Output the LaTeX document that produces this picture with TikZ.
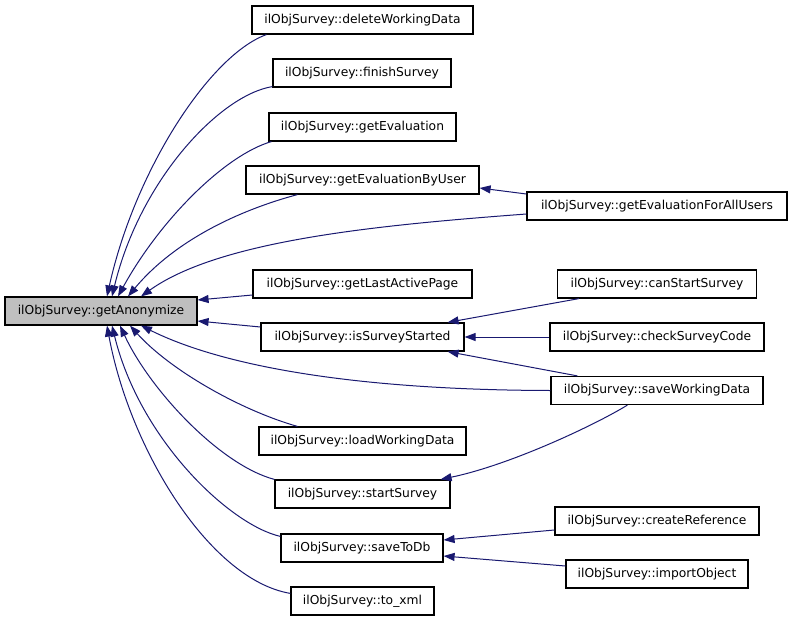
\documentclass[tikz,border=0pt]{standalone}
\usepackage{fontspec}
\setmainfont{DejaVu Sans}
\usetikzlibrary{arrows.meta}
\definecolor{edgeblue}{HTML}{191970}
\definecolor{hlgray}{HTML}{BFBFBF}
\tikzset{
  fn/.style={draw=black, line width=1.2pt, fill=white, inner sep=0pt, minimum height=28pt,
    font=\fontsize{12.3}{14}\selectfont, anchor=center},
  hl/.style={fn, fill=hlgray},
  edge/.style={draw=edgeblue, line width=1pt, {Triangle[length=11pt,width=8pt]}-},
}
\begin{document}
\begin{tikzpicture}[x=1pt,y=-1pt]
\useasboundingbox (0,0) rectangle (792,621);
% nodes
\node[hl, minimum width=192pt] (anon) at (101,311) {ilObjSurvey::getAnonymize};
\node[fn, minimum width=221pt] (del) at (362.5,20) {ilObjSurvey::deleteWorkingData};
\node[fn, minimum width=178pt] (fin) at (362,73) {ilObjSurvey::finishSurvey};
\node[fn, minimum width=187pt] (geval) at (362.5,127) {ilObjSurvey::getEvaluation};
\node[fn, minimum width=233pt] (gebu) at (362.5,180) {ilObjSurvey::getEvaluationByUser};
\node[fn, minimum width=219pt] (glap) at (362.5,284) {ilObjSurvey::getLastActivePage};
\node[fn, minimum width=203pt] (iss) at (362.5,337) {ilObjSurvey::isSurveyStarted};
\node[fn, minimum width=207pt] (lwd) at (362.5,441) {ilObjSurvey::loadWorkingData};
\node[fn, minimum width=175pt] (ss) at (362.5,494) {ilObjSurvey::startSurvey};
\node[fn, minimum width=162pt] (std) at (362,548) {ilObjSurvey::saveToDb};
\node[fn, minimum width=143pt] (xml) at (362.5,601) {ilObjSurvey::to\_xml};
\node[fn, minimum width=260pt] (gefau) at (657,206) {ilObjSurvey::getEvaluationForAllUsers};
\node[fn, minimum width=199pt] (css) at (657,284) {ilObjSurvey::canStartSurvey};
\node[fn, minimum width=214pt] (csc) at (657,337) {ilObjSurvey::checkSurveyCode};
\node[fn, minimum width=212pt] (swd) at (657,390.5) {ilObjSurvey::saveWorkingData};
\node[fn, minimum width=204pt] (cref) at (657,521) {ilObjSurvey::createReference};
\node[fn, minimum width=182pt] (imp) at (657,574) {ilObjSurvey::importObject};
% edges into getAnonymize (top)
\draw[edge] ([xshift=6pt]anon.north) .. controls (135,170) and (210,55) .. ([xshift=15pt]del.south west);
\draw[edge] ([xshift=11pt]anon.north) .. controls (140,180) and (220,95) .. ([yshift=1pt]fin.south west);
\draw[edge] ([xshift=17pt]anon.north) .. controls (160,220) and (225,155) .. ([xshift=3pt]geval.south west);
\draw[edge] ([xshift=27pt]anon.north) .. controls (175,240) and (240,210) .. ([xshift=52pt]gebu.south west);
\draw[edge] ([xshift=40pt]anon.north) .. controls (220,240) and (380,225) .. ([yshift=-8pt]gefau.west);
% right side
\draw[edge] ([yshift=11pt]anon.east) -- ([yshift=-11pt]glap.west);
\draw[edge] ([yshift=-10pt]anon.east) -- ([yshift=10pt]iss.west);
% bottom
\draw[edge] ([xshift=40pt]anon.south) .. controls (220,365) and (350,390) .. (swd.west);
\draw[edge] ([xshift=29pt]anon.south) .. controls (170,370) and (240,410) .. ([xshift=39pt]lwd.north west);
\draw[edge] ([xshift=19pt]anon.south) .. controls (150,390) and (220,465) .. (ss.north west);
\draw[edge] ([xshift=11pt]anon.south) .. controls (140,440) and (230,525) .. ([yshift=-3pt]std.north west);
\draw[edge] ([xshift=6pt]anon.south) .. controls (130,450) and (210,580) .. ([yshift=-7pt]xml.north west);
% second level
\draw[edge] ([yshift=-8pt]gebu.east) -- ([yshift=12pt]gefau.west);
\draw[edge] ([xshift=-17pt]iss.north east) -- ([xshift=22pt]css.south west);
\draw[edge] (iss.east) -- (csc.west);
\draw[edge] ([xshift=-17pt]iss.south east) -- ([xshift=27pt]swd.north west);
\draw[edge] ([xshift=-10pt]ss.north east) .. controls (510,465) and (595,425) .. ([xshift=77pt]swd.south west);
\draw[edge] ([yshift=8pt]std.east) -- ([yshift=-9pt]cref.west);
\draw[edge] ([yshift=-8pt]std.east) -- ([yshift=8pt]imp.west);
\end{tikzpicture}
\end{document}
